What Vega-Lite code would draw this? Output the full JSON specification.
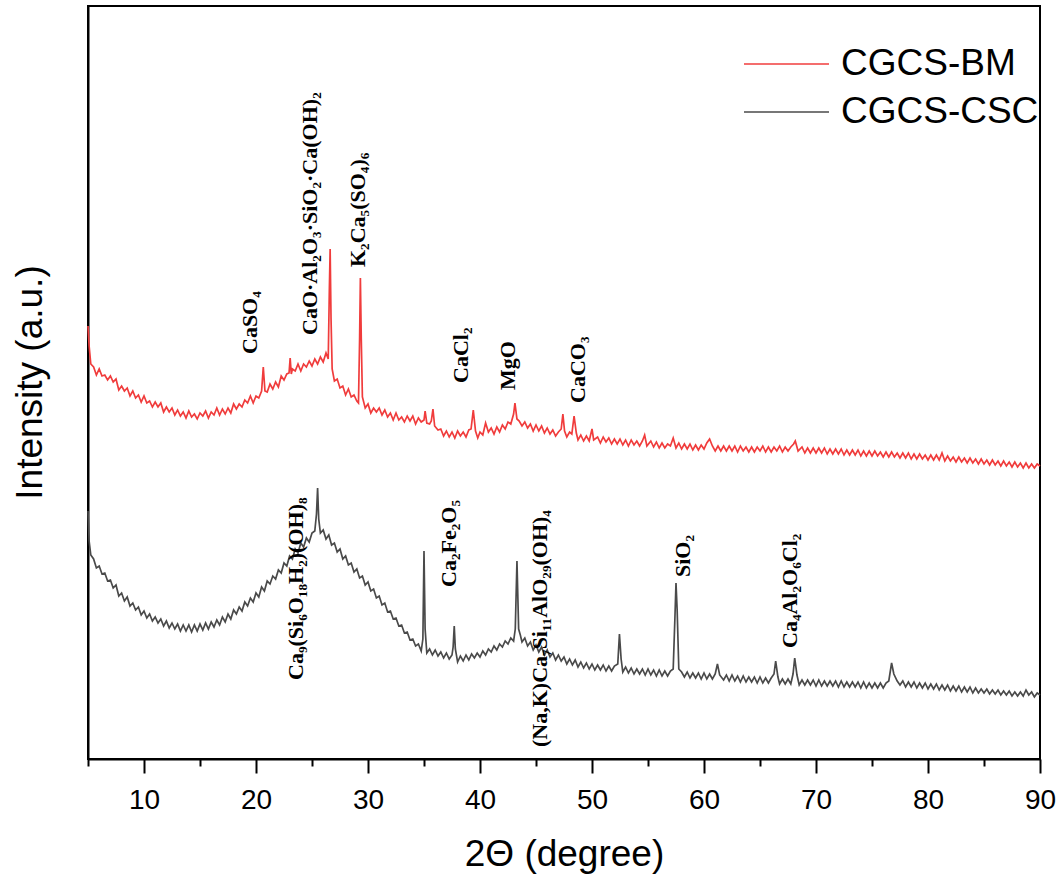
{
"$schema": "https://vega.github.io/schema/vega-lite/v6.json",
"width": 952, "height": 753,
"autosize": "none",
"padding": {"left": 88, "top": 6, "right": 21, "bottom": 120},
"background": "white",
"config": {"view": {"stroke": "black", "strokeWidth": 2}},
"datasets": {
"bm": [
{"t":5.0,"i":433},{"t":5.1,"i":413},{"t":5.25,"i":395},{"t":5.5,"i":392},{"t":5.75,"i":384},{"t":6.0,"i":390},{"t":6.25,"i":383},{"t":6.5,"i":384},{"t":6.75,"i":379},{"t":7.0,"i":383},{"t":7.25,"i":377},{"t":7.5,"i":380},{"t":7.75,"i":369},{"t":8.0,"i":373},{"t":8.25,"i":368},{"t":8.5,"i":371},{"t":8.75,"i":363},{"t":9.0,"i":368},{"t":9.25,"i":361},{"t":9.5,"i":364},{"t":9.75,"i":357},{"t":10.0,"i":363},{"t":10.25,"i":356},{"t":10.5,"i":358},{"t":10.75,"i":352},{"t":11.0,"i":357},{"t":11.25,"i":352},{"t":11.5,"i":356},{"t":11.75,"i":347},{"t":12.0,"i":352},{"t":12.25,"i":347},{"t":12.5,"i":351},{"t":12.75,"i":344},{"t":13.0,"i":349},{"t":13.25,"i":343},{"t":13.5,"i":347},{"t":13.75,"i":341},{"t":14.0,"i":348},{"t":14.25,"i":342},{"t":14.5,"i":345},{"t":14.75,"i":340},{"t":15.0,"i":346},{"t":15.25,"i":343},{"t":15.5,"i":348},{"t":15.75,"i":341},{"t":16.0,"i":347},{"t":16.25,"i":344},{"t":16.5,"i":351},{"t":16.75,"i":344},{"t":17.0,"i":350},{"t":17.25,"i":345},{"t":17.5,"i":351},{"t":17.75,"i":346},{"t":18.0,"i":355},{"t":18.25,"i":350},{"t":18.5,"i":355},{"t":18.75,"i":352},{"t":19.0,"i":359},{"t":19.25,"i":356},{"t":19.5,"i":363},{"t":19.75,"i":356},{"t":20.0,"i":363},{"t":20.25,"i":361},{"t":20.5,"i":368},{"t":20.65,"i":392},{"t":20.8,"i":368},{"t":21.0,"i":367},{"t":21.25,"i":375},{"t":21.5,"i":370},{"t":21.75,"i":377},{"t":22.0,"i":372},{"t":22.25,"i":383},{"t":22.5,"i":379},{"t":22.75,"i":385},{"t":22.95,"i":386},{"t":23.05,"i":401},{"t":23.15,"i":385},{"t":23.25,"i":390},{"t":23.5,"i":388},{"t":23.75,"i":395},{"t":24.0,"i":388},{"t":24.25,"i":395},{"t":24.5,"i":392},{"t":24.75,"i":398},{"t":25.0,"i":393},{"t":25.25,"i":400},{"t":25.5,"i":395},{"t":25.75,"i":402},{"t":26.0,"i":397},{"t":26.25,"i":406},{"t":26.45,"i":400},{"t":26.55,"i":470},{"t":26.62,"i":510},{"t":26.7,"i":440},{"t":26.8,"i":390},{"t":27.0,"i":378},{"t":27.25,"i":380},{"t":27.5,"i":371},{"t":27.75,"i":373},{"t":28.0,"i":364},{"t":28.25,"i":370},{"t":28.5,"i":362},{"t":28.75,"i":364},{"t":29.0,"i":358},{"t":29.15,"i":356},{"t":29.25,"i":420},{"t":29.32,"i":481},{"t":29.4,"i":420},{"t":29.5,"i":362},{"t":29.75,"i":351},{"t":30.0,"i":355},{"t":30.25,"i":346},{"t":30.5,"i":351},{"t":30.75,"i":347},{"t":31.0,"i":351},{"t":31.25,"i":344},{"t":31.5,"i":349},{"t":31.75,"i":342},{"t":32.0,"i":346},{"t":32.25,"i":339},{"t":32.5,"i":346},{"t":32.75,"i":339},{"t":33.0,"i":342},{"t":33.25,"i":337},{"t":33.5,"i":343},{"t":33.75,"i":338},{"t":34.0,"i":343},{"t":34.25,"i":335},{"t":34.5,"i":341},{"t":34.75,"i":337},{"t":35.0,"i":339},{"t":35.1,"i":348},{"t":35.25,"i":336},{"t":35.5,"i":335},{"t":35.65,"i":338},{"t":35.8,"i":350},{"t":35.95,"i":333},{"t":36.25,"i":329},{"t":36.5,"i":330},{"t":36.75,"i":323},{"t":37.0,"i":328},{"t":37.25,"i":322},{"t":37.5,"i":327},{"t":37.75,"i":321},{"t":38.0,"i":328},{"t":38.25,"i":323},{"t":38.5,"i":327},{"t":38.75,"i":322},{"t":39.0,"i":329},{"t":39.2,"i":330},{"t":39.4,"i":349},{"t":39.6,"i":328},{"t":39.8,"i":321},{"t":40.0,"i":327},{"t":40.25,"i":324},{"t":40.5,"i":336},{"t":40.75,"i":327},{"t":41.0,"i":331},{"t":41.25,"i":325},{"t":41.5,"i":332},{"t":41.75,"i":327},{"t":42.0,"i":334},{"t":42.25,"i":330},{"t":42.5,"i":337},{"t":42.75,"i":335},{"t":43.0,"i":345},{"t":43.12,"i":356},{"t":43.3,"i":340},{"t":43.5,"i":338},{"t":43.75,"i":333},{"t":44.0,"i":337},{"t":44.25,"i":331},{"t":44.5,"i":335},{"t":44.75,"i":328},{"t":45.0,"i":334},{"t":45.25,"i":328},{"t":45.5,"i":333},{"t":45.75,"i":326},{"t":46.0,"i":331},{"t":46.25,"i":325},{"t":46.5,"i":329},{"t":46.75,"i":323},{"t":47.0,"i":327},{"t":47.25,"i":330},{"t":47.4,"i":345},{"t":47.55,"i":328},{"t":47.75,"i":322},{"t":48.0,"i":327},{"t":48.2,"i":325},{"t":48.4,"i":343},{"t":48.6,"i":326},{"t":48.75,"i":319},{"t":49.0,"i":324},{"t":49.25,"i":318},{"t":49.5,"i":323},{"t":49.75,"i":318},{"t":50.0,"i":330},{"t":50.15,"i":319},{"t":50.5,"i":322},{"t":50.75,"i":316},{"t":51.0,"i":322},{"t":51.25,"i":317},{"t":51.5,"i":321},{"t":51.75,"i":315},{"t":52.0,"i":320},{"t":52.25,"i":315},{"t":52.5,"i":320},{"t":52.75,"i":314},{"t":53.0,"i":319},{"t":53.25,"i":313},{"t":53.5,"i":319},{"t":53.75,"i":314},{"t":54.0,"i":318},{"t":54.25,"i":313},{"t":54.5,"i":318},{"t":54.7,"i":324},{"t":54.9,"i":313},{"t":55.25,"i":318},{"t":55.5,"i":312},{"t":55.75,"i":317},{"t":56.0,"i":311},{"t":56.25,"i":316},{"t":56.5,"i":311},{"t":56.75,"i":315},{"t":57.0,"i":313},{"t":57.25,"i":321},{"t":57.5,"i":311},{"t":57.75,"i":316},{"t":58.0,"i":310},{"t":58.25,"i":315},{"t":58.5,"i":310},{"t":58.75,"i":315},{"t":59.0,"i":309},{"t":59.25,"i":314},{"t":59.5,"i":309},{"t":59.75,"i":314},{"t":60.0,"i":310},{"t":60.25,"i":316},{"t":60.5,"i":320},{"t":60.75,"i":313},{"t":61.0,"i":308},{"t":61.25,"i":313},{"t":61.5,"i":308},{"t":61.75,"i":313},{"t":62.0,"i":308},{"t":62.25,"i":313},{"t":62.5,"i":308},{"t":62.75,"i":313},{"t":63.0,"i":307},{"t":63.25,"i":313},{"t":63.5,"i":308},{"t":63.75,"i":312},{"t":64.0,"i":307},{"t":64.25,"i":312},{"t":64.5,"i":307},{"t":64.75,"i":312},{"t":65.0,"i":308},{"t":65.25,"i":313},{"t":65.5,"i":307},{"t":65.75,"i":312},{"t":66.0,"i":307},{"t":66.25,"i":312},{"t":66.5,"i":308},{"t":66.75,"i":313},{"t":67.0,"i":307},{"t":67.25,"i":312},{"t":67.5,"i":308},{"t":67.75,"i":312},{"t":68.0,"i":315},{"t":68.15,"i":318},{"t":68.4,"i":308},{"t":68.75,"i":312},{"t":69.0,"i":306},{"t":69.25,"i":311},{"t":69.5,"i":306},{"t":69.75,"i":311},{"t":70.0,"i":306},{"t":70.25,"i":311},{"t":70.5,"i":306},{"t":70.75,"i":311},{"t":71.0,"i":305},{"t":71.25,"i":310},{"t":71.5,"i":305},{"t":71.75,"i":310},{"t":72.0,"i":305},{"t":72.25,"i":310},{"t":72.5,"i":304},{"t":72.75,"i":309},{"t":73.0,"i":304},{"t":73.25,"i":309},{"t":73.5,"i":304},{"t":73.75,"i":309},{"t":74.0,"i":303},{"t":74.25,"i":308},{"t":74.5,"i":303},{"t":74.75,"i":308},{"t":75.0,"i":303},{"t":75.25,"i":308},{"t":75.5,"i":303},{"t":75.75,"i":307},{"t":76.0,"i":302},{"t":76.25,"i":307},{"t":76.5,"i":302},{"t":76.75,"i":307},{"t":77.0,"i":302},{"t":77.25,"i":306},{"t":77.5,"i":301},{"t":77.75,"i":306},{"t":78.0,"i":301},{"t":78.25,"i":306},{"t":78.5,"i":300},{"t":78.75,"i":305},{"t":79.0,"i":300},{"t":79.25,"i":305},{"t":79.5,"i":300},{"t":79.75,"i":304},{"t":80.0,"i":299},{"t":80.25,"i":304},{"t":80.5,"i":299},{"t":80.75,"i":304},{"t":81.0,"i":299},{"t":81.25,"i":306},{"t":81.5,"i":298},{"t":81.75,"i":303},{"t":82.0,"i":298},{"t":82.25,"i":302},{"t":82.5,"i":297},{"t":82.75,"i":302},{"t":83.0,"i":297},{"t":83.25,"i":301},{"t":83.5,"i":296},{"t":83.75,"i":301},{"t":84.0,"i":296},{"t":84.25,"i":300},{"t":84.5,"i":295},{"t":84.75,"i":300},{"t":85.0,"i":295},{"t":85.25,"i":299},{"t":85.5,"i":294},{"t":85.75,"i":299},{"t":86.0,"i":294},{"t":86.25,"i":298},{"t":86.5,"i":293},{"t":86.75,"i":298},{"t":87.0,"i":293},{"t":87.25,"i":297},{"t":87.5,"i":292},{"t":87.75,"i":297},{"t":88.0,"i":292},{"t":88.25,"i":296},{"t":88.5,"i":291},{"t":88.75,"i":296},{"t":89.0,"i":291},{"t":89.25,"i":295},{"t":89.5,"i":291},{"t":89.75,"i":295},{"t":90.0,"i":293}
],
"csc": [
{"t":5.0,"i":248},{"t":5.1,"i":218},{"t":5.25,"i":204},{"t":5.5,"i":200},{"t":5.75,"i":191},{"t":6.0,"i":193},{"t":6.25,"i":185},{"t":6.5,"i":186},{"t":6.75,"i":178},{"t":7.0,"i":179},{"t":7.25,"i":171},{"t":7.5,"i":174},{"t":7.75,"i":163},{"t":8.0,"i":166},{"t":8.25,"i":158},{"t":8.5,"i":162},{"t":8.75,"i":153},{"t":9.0,"i":156},{"t":9.25,"i":149},{"t":9.5,"i":152},{"t":9.75,"i":144},{"t":10.0,"i":148},{"t":10.25,"i":141},{"t":10.5,"i":145},{"t":10.75,"i":138},{"t":11.0,"i":142},{"t":11.25,"i":136},{"t":11.5,"i":140},{"t":11.75,"i":133},{"t":12.0,"i":138},{"t":12.25,"i":131},{"t":12.5,"i":136},{"t":12.75,"i":130},{"t":13.0,"i":135},{"t":13.25,"i":128},{"t":13.5,"i":134},{"t":13.75,"i":128},{"t":14.0,"i":134},{"t":14.25,"i":127},{"t":14.5,"i":134},{"t":14.75,"i":128},{"t":15.0,"i":135},{"t":15.25,"i":129},{"t":15.5,"i":136},{"t":15.75,"i":130},{"t":16.0,"i":137},{"t":16.25,"i":132},{"t":16.5,"i":139},{"t":16.75,"i":134},{"t":17.0,"i":142},{"t":17.25,"i":137},{"t":17.5,"i":145},{"t":17.75,"i":140},{"t":18.0,"i":149},{"t":18.25,"i":145},{"t":18.5,"i":152},{"t":18.75,"i":148},{"t":19.0,"i":157},{"t":19.25,"i":153},{"t":19.5,"i":161},{"t":19.75,"i":157},{"t":20.0,"i":166},{"t":20.25,"i":162},{"t":20.5,"i":172},{"t":20.75,"i":168},{"t":21.0,"i":178},{"t":21.25,"i":175},{"t":21.5,"i":183},{"t":21.75,"i":180},{"t":22.0,"i":189},{"t":22.25,"i":186},{"t":22.5,"i":196},{"t":22.75,"i":193},{"t":23.0,"i":203},{"t":23.25,"i":200},{"t":23.5,"i":210},{"t":23.75,"i":206},{"t":24.0,"i":216},{"t":24.25,"i":212},{"t":24.5,"i":221},{"t":24.75,"i":217},{"t":25.0,"i":226},{"t":25.25,"i":228},{"t":25.4,"i":245},{"t":25.5,"i":271},{"t":25.6,"i":240},{"t":25.75,"i":226},{"t":26.0,"i":229},{"t":26.25,"i":220},{"t":26.5,"i":224},{"t":26.75,"i":214},{"t":27.0,"i":216},{"t":27.25,"i":207},{"t":27.5,"i":210},{"t":27.75,"i":200},{"t":28.0,"i":203},{"t":28.25,"i":194},{"t":28.5,"i":196},{"t":28.75,"i":187},{"t":29.0,"i":190},{"t":29.25,"i":181},{"t":29.5,"i":183},{"t":29.75,"i":174},{"t":30.0,"i":177},{"t":30.25,"i":168},{"t":30.5,"i":170},{"t":30.75,"i":161},{"t":31.0,"i":163},{"t":31.25,"i":154},{"t":31.5,"i":156},{"t":31.75,"i":147},{"t":32.0,"i":148},{"t":32.25,"i":140},{"t":32.5,"i":141},{"t":32.75,"i":133},{"t":33.0,"i":134},{"t":33.25,"i":126},{"t":33.5,"i":127},{"t":33.75,"i":119},{"t":34.0,"i":120},{"t":34.25,"i":113},{"t":34.5,"i":115},{"t":34.75,"i":108},{"t":34.9,"i":120},{"t":35.0,"i":208},{"t":35.1,"i":130},{"t":35.25,"i":106},{"t":35.5,"i":110},{"t":35.75,"i":104},{"t":36.0,"i":109},{"t":36.25,"i":103},{"t":36.5,"i":107},{"t":36.75,"i":101},{"t":37.0,"i":106},{"t":37.25,"i":100},{"t":37.5,"i":104},{"t":37.6,"i":112},{"t":37.7,"i":133},{"t":37.8,"i":110},{"t":38.0,"i":97},{"t":38.25,"i":103},{"t":38.5,"i":98},{"t":38.75,"i":104},{"t":39.0,"i":99},{"t":39.25,"i":105},{"t":39.5,"i":101},{"t":39.75,"i":106},{"t":40.0,"i":102},{"t":40.25,"i":108},{"t":40.5,"i":104},{"t":40.75,"i":110},{"t":41.0,"i":107},{"t":41.25,"i":113},{"t":41.5,"i":109},{"t":41.75,"i":115},{"t":42.0,"i":112},{"t":42.25,"i":118},{"t":42.5,"i":115},{"t":42.75,"i":121},{"t":43.0,"i":118},{"t":43.15,"i":130},{"t":43.3,"i":198},{"t":43.45,"i":130},{"t":43.6,"i":124},{"t":43.75,"i":117},{"t":44.0,"i":121},{"t":44.25,"i":113},{"t":44.5,"i":117},{"t":44.75,"i":109},{"t":45.0,"i":114},{"t":45.25,"i":107},{"t":45.5,"i":112},{"t":45.75,"i":104},{"t":46.0,"i":109},{"t":46.25,"i":102},{"t":46.5,"i":106},{"t":46.75,"i":99},{"t":47.0,"i":104},{"t":47.25,"i":98},{"t":47.5,"i":102},{"t":47.75,"i":95},{"t":48.0,"i":100},{"t":48.25,"i":94},{"t":48.5,"i":99},{"t":48.75,"i":92},{"t":49.0,"i":97},{"t":49.25,"i":91},{"t":49.5,"i":96},{"t":49.75,"i":90},{"t":50.0,"i":95},{"t":50.25,"i":89},{"t":50.5,"i":94},{"t":50.75,"i":89},{"t":51.0,"i":94},{"t":51.25,"i":88},{"t":51.5,"i":93},{"t":51.75,"i":88},{"t":52.0,"i":93},{"t":52.3,"i":95},{"t":52.45,"i":125},{"t":52.6,"i":100},{"t":52.75,"i":87},{"t":53.0,"i":92},{"t":53.25,"i":86},{"t":53.5,"i":91},{"t":53.75,"i":85},{"t":54.0,"i":90},{"t":54.25,"i":85},{"t":54.5,"i":90},{"t":54.75,"i":84},{"t":55.0,"i":90},{"t":55.25,"i":84},{"t":55.5,"i":89},{"t":55.75,"i":83},{"t":56.0,"i":89},{"t":56.25,"i":83},{"t":56.5,"i":88},{"t":56.75,"i":83},{"t":57.0,"i":88},{"t":57.25,"i":90},{"t":57.4,"i":140},{"t":57.5,"i":176},{"t":57.6,"i":150},{"t":57.75,"i":90},{"t":58.0,"i":87},{"t":58.25,"i":82},{"t":58.5,"i":87},{"t":58.75,"i":81},{"t":59.0,"i":86},{"t":59.25,"i":81},{"t":59.5,"i":86},{"t":59.75,"i":80},{"t":60.0,"i":86},{"t":60.25,"i":80},{"t":60.5,"i":85},{"t":60.75,"i":80},{"t":61.0,"i":85},{"t":61.2,"i":95},{"t":61.4,"i":84},{"t":61.75,"i":79},{"t":62.0,"i":84},{"t":62.25,"i":78},{"t":62.5,"i":84},{"t":62.75,"i":78},{"t":63.0,"i":83},{"t":63.25,"i":77},{"t":63.5,"i":83},{"t":63.75,"i":77},{"t":64.0,"i":82},{"t":64.25,"i":77},{"t":64.5,"i":82},{"t":64.75,"i":76},{"t":65.0,"i":82},{"t":65.25,"i":76},{"t":65.5,"i":81},{"t":65.75,"i":76},{"t":66.0,"i":81},{"t":66.25,"i":85},{"t":66.4,"i":98},{"t":66.6,"i":82},{"t":66.75,"i":75},{"t":67.0,"i":80},{"t":67.25,"i":75},{"t":67.5,"i":80},{"t":67.75,"i":75},{"t":67.95,"i":85},{"t":68.1,"i":101},{"t":68.3,"i":84},{"t":68.5,"i":74},{"t":68.75,"i":79},{"t":69.0,"i":74},{"t":69.25,"i":79},{"t":69.5,"i":74},{"t":69.75,"i":79},{"t":70.0,"i":73},{"t":70.25,"i":79},{"t":70.5,"i":73},{"t":70.75,"i":78},{"t":71.0,"i":73},{"t":71.25,"i":78},{"t":71.5,"i":73},{"t":71.75,"i":78},{"t":72.0,"i":72},{"t":72.25,"i":78},{"t":72.5,"i":72},{"t":72.75,"i":77},{"t":73.0,"i":72},{"t":73.25,"i":77},{"t":73.5,"i":72},{"t":73.75,"i":77},{"t":74.0,"i":71},{"t":74.25,"i":77},{"t":74.5,"i":71},{"t":74.75,"i":76},{"t":75.0,"i":71},{"t":75.25,"i":76},{"t":75.5,"i":71},{"t":75.75,"i":76},{"t":76.0,"i":71},{"t":76.25,"i":76},{"t":76.5,"i":78},{"t":76.75,"i":96},{"t":76.95,"i":85},{"t":77.25,"i":78},{"t":77.5,"i":74},{"t":77.75,"i":78},{"t":78.0,"i":72},{"t":78.25,"i":77},{"t":78.5,"i":72},{"t":78.75,"i":77},{"t":79.0,"i":71},{"t":79.25,"i":76},{"t":79.5,"i":71},{"t":79.75,"i":76},{"t":80.0,"i":70},{"t":80.25,"i":75},{"t":80.5,"i":70},{"t":80.75,"i":75},{"t":81.0,"i":69},{"t":81.25,"i":74},{"t":81.5,"i":69},{"t":81.75,"i":74},{"t":82.0,"i":68},{"t":82.25,"i":73},{"t":82.5,"i":68},{"t":82.75,"i":73},{"t":83.0,"i":67},{"t":83.25,"i":72},{"t":83.5,"i":67},{"t":83.75,"i":72},{"t":84.0,"i":66},{"t":84.25,"i":71},{"t":84.5,"i":66},{"t":84.75,"i":70},{"t":85.0,"i":66},{"t":85.25,"i":70},{"t":85.5,"i":65},{"t":85.75,"i":69},{"t":86.0,"i":65},{"t":86.25,"i":69},{"t":86.5,"i":64},{"t":86.75,"i":68},{"t":87.0,"i":64},{"t":87.25,"i":68},{"t":87.5,"i":63},{"t":87.75,"i":67},{"t":88.0,"i":63},{"t":88.25,"i":67},{"t":88.5,"i":63},{"t":88.75,"i":69},{"t":89.0,"i":64},{"t":89.25,"i":67},{"t":89.5,"i":62},{"t":89.75,"i":66},{"t":90.0,"i":64}
],
"lab": [
{"t":19.5,"i":405,"label":"CaSO₄"},
{"t":24.8,"i":424,"label":"CaO·Al₂O₃·SiO₂·Ca(OH)₂"},
{"t":29.1,"i":492,"label":"K₂Ca₅(SO₄)₆"},
{"t":38.3,"i":376,"label":"CaCl₂"},
{"t":42.5,"i":369,"label":"MgO"},
{"t":48.75,"i":356,"label":"CaCO₃"},
{"t":23.6,"i":79,"label":"Ca₉(Si₆O₁₈H₂)(OH)₈"},
{"t":37.2,"i":172,"label":"Ca₂Fe₂O₅"},
{"t":45.4,"i":12,"label":"(Na,K)Ca₇Si₁₁AlO₂₉(OH)₄"},
{"t":58.1,"i":182,"label":"SiO₂"},
{"t":67.7,"i":111,"label":"Ca₄Al₂O₆Cl₂"}
]
},
"encoding": {
"x": {"field": "t", "type": "quantitative", "scale": {"domain": [5, 90], "nice": false, "zero": false},
"axis": {"values": [5,10,15,20,25,30,35,40,45,50,55,60,65,70,75,80,85,90],
"labelExpr": "datum.value % 10 === 0 ? datum.label : ''",
"tickSize": {"condition": {"test": "datum.value % 10 === 0", "value": 14}, "value": 7},
"tickWidth": 2, "tickColor": "black", "domainColor": "black", "domainWidth": 2, "grid": false,
"labelFont": "Liberation Sans", "labelFontSize": 28, "labelColor": "black", "labelFlush": false,
"labelBaseline": "alphabetic", "labelPadding": 35,
"title": "2Θ (degree)", "titleFont": "Liberation Sans", "titleFontSize": 37, "titleFontWeight": "normal", "titleColor": "black",
"titleBaseline": "alphabetic", "titleX": 476, "titleY": 106, "titleAnchor": "middle"}},
"y": {"field": "i", "type": "quantitative", "scale": {"domain": [0, 753], "nice": false, "zero": false},
"axis": {"labels": false, "ticks": false, "grid": false, "domainColor": "black", "domainWidth": 2,
"title": "Intensity (a.u.)", "titleFont": "Liberation Sans", "titleFontSize": 37, "titleFontWeight": "normal", "titleColor": "black",
"titleAngle": -90, "titleBaseline": "middle", "titleAlign": "center", "titleX": -58, "titleY": 376}}
},
"layer": [
{"data": {"name": "bm"}, "mark": {"type": "line", "strokeWidth": 1.7},
"encoding": {"color": {"datum": "CGCS-BM", "type": "nominal",
"scale": {"domain": ["CGCS-BM", "CGCS-CSC"], "range": ["#f03c3c", "#4a4a4a"]},
"legend": {"orient": "none", "legendX": 655, "legendY": 40, "padding": 0, "title": null, "symbolType": "stroke", "symbolSize": 7225, "symbolStrokeWidth": 1.5,
"clipHeight": 36,
"labelFont": "Liberation Sans", "labelFontSize": 37, "labelColor": "black", "labelOffset": 11, "rowPadding": 11, "labelLimit": 400}}}},
{"data": {"name": "csc"}, "mark": {"type": "line", "strokeWidth": 1.7},
"encoding": {"color": {"datum": "CGCS-CSC", "type": "nominal"}}},
{"data": {"name": "lab"}, "mark": {"type": "text", "angle": 270, "align": "left", "baseline": "middle", "font": "Liberation Serif", "fontWeight": "bold", "fontSize": 22, "color": "black"},
"encoding": {"text": {"field": "label"}}}
]
}
